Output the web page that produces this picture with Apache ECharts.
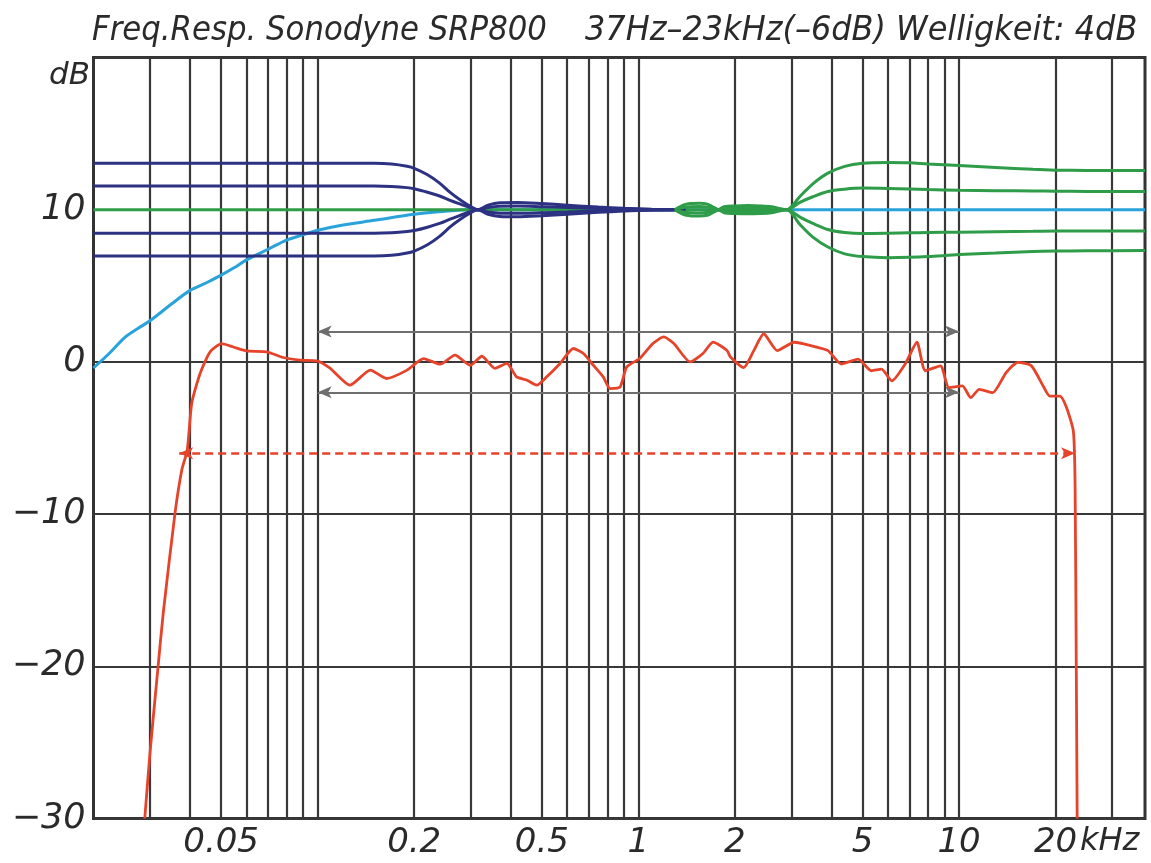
<!DOCTYPE html>
<html><head><meta charset="utf-8">
<script src="https://cdn.jsdelivr.net/npm/echarts@6/dist/echarts.min.js"></script>
<style>html,body{margin:0;padding:0;background:#fff;}#c{width:1151px;height:863px;}</style>
</head><body><div id="c"></div>
<script>
// ---- axis ticks / labels ----
const xMinFreq = 0.02, xMaxFreq = 38;
const xGridFreqs = [0.03,0.04,0.05,0.06,0.07,0.08,0.09,0.1,0.2,0.3,0.4,0.5,0.6,0.7,0.8,0.9,1,2,3,4,5,6,7,8,9,10,20,30];
const xLabelFreqs = [0.05,0.2,0.5,1,2,5,10,20];
const yLabels = {'-30':'\u221230','-20':'\u221220','-10':'\u221210','0':'0','10':'10','20':''};

// ---- bass tone-control curves (navy) ----
const navyFreq   = [0.02,0.1,0.15,0.17,0.19,0.2,0.22,0.24,0.26,0.28,0.3,0.315,0.34,0.37,0.42,0.5,0.6,0.75,0.9,1.1,1.4];
const navyPlus3  = [13.05,13.05,13.05,13.0,12.85,12.72,12.3,11.75,11.1,10.6,10.2,10.0,10.3,10.45,10.47,10.4,10.3,10.17,10.09,10.03,10.0];
const navyPlus15 = [11.55,11.55,11.55,11.52,11.45,11.38,11.15,10.9,10.6,10.35,10.12,10.0,10.15,10.23,10.24,10.2,10.15,10.08,10.04,10.01,10.0];
const navyMinus15= [8.45,8.45,8.45,8.48,8.56,8.63,8.85,9.1,9.4,9.65,9.88,10.0,9.85,9.77,9.76,9.8,9.85,9.92,9.96,9.99,10.0];
const navyMinus3 = [6.95,6.95,6.95,7.0,7.15,7.28,7.7,8.25,8.9,9.4,9.8,10.0,9.7,9.55,9.53,9.6,9.7,9.83,9.91,9.97,10.0];

// ---- treble tone-control curves (green) ----
const greenCenterFreq = [0.02,2.9];
const greenCenterDb   = [10,10];
const greenFreq    = [1.3,1.38,1.45,1.55,1.65,1.72,1.78,1.85,2.0,2.2,2.4,2.6,2.75,2.9,3.2,3.5,3.9,4.4,5,6,7,8,10,13,17,20,25,38];
const greenPlus3   = [10.0,10.3,10.4,10.42,10.35,10.15,10.02,10.2,10.25,10.27,10.25,10.2,10.08,10.0,10.9,11.7,12.4,12.85,13.05,13.1,13.08,13.0,12.9,12.78,12.65,12.6,12.58,12.57];
const greenPlus15  = [10.0,10.15,10.2,10.21,10.17,10.07,10.01,10.1,10.12,10.13,10.12,10.1,10.04,10.0,10.5,10.85,11.2,11.35,11.42,11.4,11.36,11.32,11.28,11.25,11.23,11.22,11.2,11.2];
const greenMinus15 = [10.0,9.85,9.8,9.79,9.83,9.93,9.99,9.9,9.88,9.87,9.88,9.9,9.96,10.0,9.5,9.1,8.7,8.5,8.43,8.45,8.48,8.5,8.52,8.55,8.58,8.6,8.6,8.6];
const greenMinus3  = [10.0,9.7,9.6,9.58,9.65,9.85,9.98,9.8,9.75,9.73,9.75,9.8,9.92,10.0,9.0,8.2,7.55,7.1,6.92,6.85,6.87,6.92,7.05,7.15,7.25,7.28,7.3,7.32];

// ---- loudness / subsonic curve (cyan) ----
const cyanFreq = [0.02,0.0225,0.025,0.0275,0.03,0.035,0.04,0.045,0.05,0.055,0.06,0.07,0.08,0.09,0.1,0.12,0.15,0.2,0.25,0.3,0.35,1,3,10,38];
const cyanDb   = [-0.4,0.6,1.6,2.2,2.7,3.8,4.7,5.2,5.7,6.2,6.7,7.4,8.0,8.35,8.65,9.0,9.3,9.7,9.9,10.0,10.0,10,10,10,10];

// ---- measured frequency response (red) ----
const redFreq = [0.0289,0.0300,0.0318,0.0330,0.0359,0.0377,0.0392,0.0405,0.0430,0.0462,0.0502,0.0546,0.0601,0.0693,0.0781,0.0881,0.0993,0.109,0.126,0.146,0.164,0.190,0.214,0.241,0.268,0.299,0.325,0.357,0.389,0.417,0.449,0.482,0.518,0.570,0.627,0.674,0.724,0.777,0.816,0.877,0.920,1.01,1.11,1.20,1.29,1.45,1.59,1.71,1.89,1.94,2.13,2.29,2.46,2.71,3.06,3.45,3.90,4.29,4.84,5.33,5.73,6.17,6.79,7.39,7.85,8.75,9.30,10.24,10.88,11.56,12.73,14.02,15.26,16.81,18.29,19.19,20.63,21.64,22.72,23.0,23.2,23.35];
const redDb   = [-30,-25.7,-20.0,-16.5,-9.95,-7.1,-5.8,-2.7,-0.76,0.66,1.2,0.98,0.72,0.66,0.29,0.11,0.07,-0.4,-1.53,-0.54,-1.09,-0.54,0.22,-0.15,0.44,-0.22,0.37,-0.43,-0.1,-0.98,-1.2,-1.53,-0.98,-0.1,0.88,0.55,-0.22,-0.98,-1.75,-1.64,-0.33,0.22,1.21,1.64,1.21,0.0,0.55,1.3,0.75,0.3,-0.37,0.74,1.85,0.74,1.29,1.07,0.74,-0.14,0.18,-0.58,-0.48,-1.25,-0.14,1.29,-0.58,-0.26,-1.69,-1.58,-2.35,-1.80,-2.02,-0.70,-0.03,-0.26,-1.58,-2.25,-2.25,-3.01,-4.56,-8,-20,-30];

// ---- ripple / bandwidth markers ----
const rippleFrom = 0.1, rippleTo = 10, rippleUpper = 2, rippleLower = -2;
const bwFrom = 0.037, bwTo = 23, bwLevel = -6;

const zip = (a, b) => a.map((v, i) => [v, b[i]]);
const L10 = Math.log10;

const NAVY = '#2c3182', GREEN = '#2e9c48', CYAN = '#2aa3da', RED = '#e5432a', GRID = '#383838', ARROW = '#6e6e6e';
const FONT = '"DejaVu Sans", sans-serif';

function lineSeries(name, data, color, z, width, smooth) {
  return {name, type:'line', xAxisIndex:0, yAxisIndex:0, data, showSymbol:false, symbol:'none',
    smooth: smooth, z, lineStyle:{color, width}, itemStyle:{color}, animation:false, silent:true};
}

const series = [
  lineSeries('cyan', zip(cyanFreq, cyanDb), CYAN, 2, 3, 0.3),
  lineSeries('greenC', zip(greenCenterFreq, greenCenterDb), GREEN, 3, 3, false),
  lineSeries('n1', zip(navyFreq, navyPlus3), NAVY, 4, 3, 0.3),
  lineSeries('n2', zip(navyFreq, navyPlus15), NAVY, 4, 3, 0.3),
  lineSeries('n3', zip(navyFreq, navyMinus15), NAVY, 4, 3, 0.3),
  lineSeries('n4', zip(navyFreq, navyMinus3), NAVY, 4, 3, 0.3),
  lineSeries('g1', zip(greenFreq, greenPlus3), GREEN, 5, 3, 0.3),
  lineSeries('g2', zip(greenFreq, greenPlus15), GREEN, 5, 3, 0.3),
  lineSeries('g3', zip(greenFreq, greenMinus15), GREEN, 5, 3, 0.3),
  lineSeries('g4', zip(greenFreq, greenMinus3), GREEN, 5, 3, 0.3),
];
const red = lineSeries('red', zip(redFreq, redDb), RED, 7, 2.8, 0.2);
red.markLine = {
  silent:true, animation:false, label:{show:false}, z:6,
  symbol:['arrow','arrow'], symbolSize:[9,14],
  data:[
    [{coord:[rippleFrom, rippleUpper], lineStyle:{color:ARROW, width:2, type:'solid'}, itemStyle:{color:ARROW}}, {coord:[rippleTo, rippleUpper]}],
    [{coord:[rippleFrom, rippleLower], lineStyle:{color:ARROW, width:2, type:'solid'}, itemStyle:{color:ARROW}}, {coord:[rippleTo, rippleLower]}],
    [{coord:[bwFrom, bwLevel], lineStyle:{color:RED, width:2.5, type:[8,5]}, itemStyle:{color:RED}}, {coord:[bwTo, bwLevel]}]
  ]
};
series.push(red);

const option = {
  backgroundColor:'#fff',
  animation:false,
  grid:{left:93.5, right:6, top:57.5, bottom:44.5, show:true, borderColor:'#333', borderWidth:3, backgroundColor:'transparent', containLabel:false},
  xAxis:[
    {type:'log', logBase:10, min:xMinFreq, max:xMaxFreq, show:false},
    {type:'value', min:L10(xMinFreq), max:L10(xMaxFreq), position:'bottom',
     axisLine:{show:false}, axisTick:{show:false, customValues:xGridFreqs.map(L10)},
     splitLine:{show:true, lineStyle:{color:GRID, width:2.2}},
     axisLabel:{show:true, customValues:xLabelFreqs.map(L10), margin:8, color:'#2a2a2a',
       fontFamily:FONT, fontStyle:'italic', fontSize:34,
       formatter:v => String(+Math.pow(10, v).toPrecision(2))}}
  ],
  yAxis:[{type:'value', min:-30, max:20, interval:10,
    axisLine:{show:false}, axisTick:{show:false},
    splitLine:{show:true, lineStyle:{color:GRID, width:2.2}},
    axisLabel:{margin:8, color:'#2a2a2a', fontFamily:FONT, fontStyle:'italic', fontSize:35,
      formatter:v => yLabels[String(v)] ?? String(v)}}],
  graphic:[
    {type:'text', x:92, y:14, scaleX:0.905, silent:true,
     style:{text:'Freq.Resp. Sonodyne SRP800', font:'italic 34px "DejaVu Sans"', fill:'#2a2a2a', verticalAlign:'top'}},
    {type:'text', x:585, y:14, scaleX:0.94, silent:true,
     style:{text:'37Hz\u201323kHz(\u20136dB) Welligkeit: 4dB', font:'italic 34px "DejaVu Sans"', fill:'#2a2a2a', verticalAlign:'top'}},
    {type:'text', x:90, y:60, silent:true,
     style:{text:'dB', font:'italic 31px "DejaVu Sans"', fill:'#2a2a2a', align:'right', verticalAlign:'top'}},
    {type:'text', x:1080, y:826, silent:true,
     style:{text:'kHz', font:'italic 32px "DejaVu Sans"', fill:'#2a2a2a', align:'left', verticalAlign:'top'}}
  ],
  series
};
const chart = echarts.init(document.getElementById('c'), null, {renderer:'canvas'});
chart.setOption(option);
</script></body></html>
